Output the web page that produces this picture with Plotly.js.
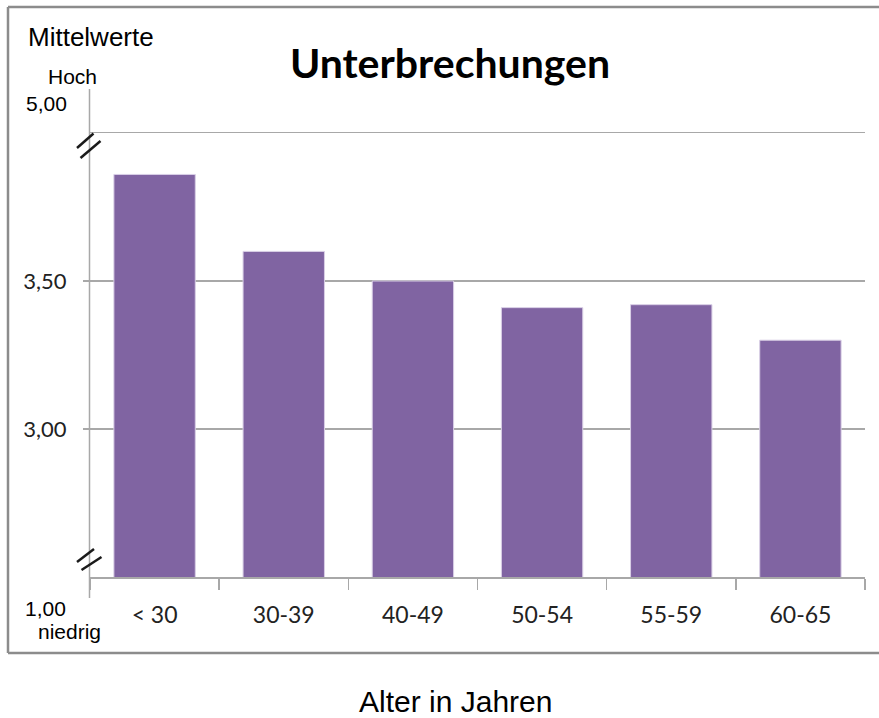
<!DOCTYPE html>
<html>
<head>
<meta charset="utf-8">
<script src="https://cdn.plot.ly/plotly-3.0.1.min.js"></script>
<style>html,body{margin:0;padding:0;background:#fff;}#chart{width:879px;height:718px;}</style>
</head>
<body>
<div id="chart"></div>
<script>
// Data
const categories = ["< 30", "30-39", "40-49", "50-54", "55-59", "60-65"];
const meanValues = [3.86, 3.60, 3.50, 3.41, 3.42, 3.30];
const yTickValues = [3.0, 3.5];
const yTickLabels = ["3,00", "3,50"];
const chartTitle = "Unterbrechungen";
const xAxisTitle = "Alter in Jahren";
const topLabel = "5,00";
const bottomLabel = "1,00";
const highLabel = "Hoch";
const lowLabel = "niedrig";
const yAxisTitle = "Mittelwerte";

const W = 879, H = 718;
const M = {l: 90, r: 14, t: 133, b: 141};
const pw = W - M.l - M.r, ph = H - M.t - M.b;
const px = x => (x - M.l) / pw;
const py = y => (H - M.b - y) / ph;

const grey = "#a8a8a8";
function seg(x0, y0, x1, y1, color, width) {
  return {type: "line", xref: "paper", yref: "paper", x0: px(x0), y0: py(y0), x1: px(x1), y1: py(y1),
    line: {color: color, width: width}, layer: "above"};
}
const shapes = [
  // outer frame
  seg(8, 7, 880, 7, "#8c8c8c", 2.5),
  seg(8, 7, 8, 653, "#8c8c8c", 2.5),
  seg(8, 653, 880, 653, "#8c8c8c", 2.5),
  // extended y axis line
  seg(89.5, 89, 89.5, 598, grey, 1.5),
  // axis break marks
  seg(77, 148, 93.5, 133.5, "#1a1a1a", 2.5),
  seg(80.5, 158, 100.5, 141, "#1a1a1a", 2.5),
  seg(77, 562, 94, 549, "#1a1a1a", 2.5),
  seg(81.5, 570, 101.5, 557, "#1a1a1a", 2.5)
];

function ann(text, x, y, size, family, extra) {
  return Object.assign({text: text, xref: "paper", yref: "paper", x: px(x), y: py(y),
    xanchor: "center", yanchor: "middle", showarrow: false,
    font: {family: family, size: size, color: "#000"}}, extra || {});
}
const arial = "Liberation Sans, Arial, sans-serif";
const annotations = [
  ann(yAxisTitle, 91, 37, 26, arial),
  ann(highLabel, 72, 76, 21, arial),
  ann(topLabel, 46, 104, 21, arial),
  ann(bottomLabel, 45, 608, 21, arial),
  ann(lowLabel, 69, 631, 21, arial),
  ann(xAxisTitle, 455, 701, 30, arial)
];

const trace = {
  type: "bar",
  x: categories,
  y: meanValues,
  marker: {color: "#8064A2", line: {color: "#d9cfe6", width: 1}},
  hoverinfo: "x+y"
};

const layout = {
  width: W, height: H,
  margin: M,
  paper_bgcolor: "#fff", plot_bgcolor: "#fff",
  showlegend: false,
  bargap: 0.37,
  title: {text: chartTitle, x: 450 / W, xanchor: "center", xref: "container",
    y: 1 - 64 / H, yanchor: "middle", yref: "container",
    font: {family: "Lato, sans-serif", size: 41, color: "#000", weight: "bold"}},
  xaxis: {
    type: "category",
    showline: true, mirror: true, linecolor: grey, linewidth: 1.5,
    ticks: "outside", tickson: "boundaries", ticklen: 11, tickcolor: grey, tickwidth: 1.5,
    tickfont: {family: "Lato, sans-serif", size: 23, color: "#222"},
    ticklabelstandoff: 17,
    showgrid: false, zeroline: false
  },
  yaxis: {
    range: [2.5, 4.0],
    tickvals: yTickValues, ticktext: yTickLabels,
    ticks: "outside", ticklen: 6, tickcolor: grey, tickwidth: 1.5,
    tickfont: {family: "Lato, sans-serif", size: 22, color: "#222"},
    ticklabelstandoff: 12,
    showgrid: true, gridcolor: grey, gridwidth: 1.5,
    showline: false, zeroline: false
  },
  shapes: shapes,
  annotations: annotations
};

Plotly.newPlot("chart", [trace], layout, {displayModeBar: false, staticPlot: true});
</script>
</body>
</html>
